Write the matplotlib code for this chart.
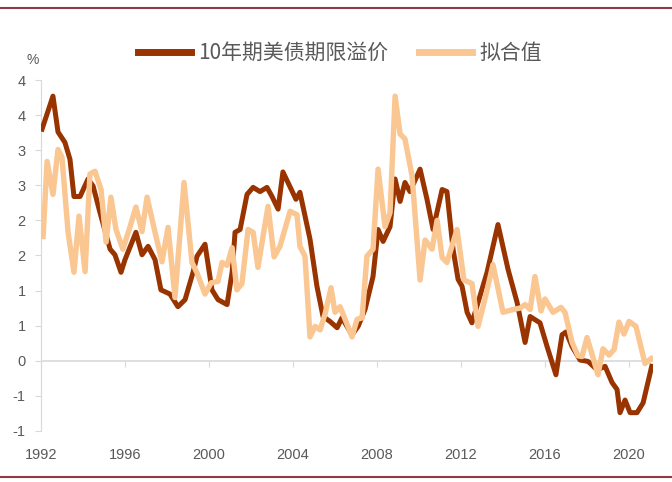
import matplotlib as mpl
mpl.use('Agg')
import matplotlib.pyplot as plt
from matplotlib.lines import Line2D

plt.rcParams['font.family'] = ['Liberation Sans', 'Noto Sans CJK SC', 'DejaVu Sans']

# 10年期美债期限溢价 (decimal years, %)
premium_x = [1992.05, 1992.57, 1992.81, 1993.14, 1993.38, 1993.57, 1993.86, 1994.24, 1994.48, 1994.81,
             1995.29, 1995.52, 1995.81, 1996.00, 1996.52, 1996.81, 1997.10, 1997.43, 1997.71, 1998.14,
             1998.52, 1998.86, 1999.24, 1999.43, 1999.81, 2000.14, 2000.43, 2000.86, 2001.10, 2001.24,
             2001.48, 2001.81, 2002.10, 2002.43, 2002.76, 2003.00, 2003.29, 2003.52, 2003.95, 2004.14,
             2004.33, 2004.81, 2005.14, 2005.43, 2005.76, 2006.10, 2006.33, 2006.81, 2007.10, 2007.43,
             2007.81, 2008.05, 2008.29, 2008.62, 2008.86, 2009.10, 2009.33, 2009.57, 2010.05, 2010.38,
             2010.67, 2011.10, 2011.33, 2011.62, 2011.86, 2012.05, 2012.29, 2012.52, 2012.81, 2013.24,
             2013.76, 2014.24, 2014.67, 2015.05, 2015.29, 2015.76, 2016.10, 2016.52, 2016.81, 2017.00,
             2017.29, 2017.67, 2018.05, 2018.48, 2018.86, 2019.19, 2019.43, 2019.57, 2019.81, 2020.05,
             2020.38, 2020.67, 2021.08]
premium_y = [3.30, 3.77, 3.26, 3.11, 2.87, 2.34, 2.34, 2.59, 2.49, 2.11,
             1.59, 1.51, 1.26, 1.44, 1.83, 1.51, 1.63, 1.44, 1.01, 0.95,
             0.77, 0.87, 1.26, 1.49, 1.66, 1.01, 0.87, 0.80, 1.26, 1.83,
             1.87, 2.37, 2.47, 2.41, 2.47, 2.34, 2.16, 2.69, 2.42, 2.30,
             2.40, 1.73, 1.06, 0.63, 0.56, 0.47, 0.61, 0.37, 0.49, 0.73,
             1.20, 1.87, 1.70, 1.91, 2.59, 2.27, 2.54, 2.41, 2.73, 2.30,
             1.87, 2.44, 2.41, 1.59, 1.16, 1.06, 0.69, 0.54, 0.83, 1.26,
             1.94, 1.30, 0.83, 0.26, 0.63, 0.54, 0.20, -0.20, 0.37, 0.41,
             0.20, 0.01, -0.01, -0.13, -0.08, -0.31, -0.41, -0.74, -0.56, -0.74,
             -0.74, -0.60, -0.08]

# 拟合值
fitted_x = [1992.10, 1992.29, 1992.57, 1992.81, 1993.00, 1993.29, 1993.57, 1993.81, 1994.10, 1994.33,
            1994.57, 1994.86, 1995.10, 1995.33, 1995.57, 1995.90, 1996.24, 1996.52, 1996.81, 1997.05,
            1997.43, 1997.76, 1998.05, 1998.38, 1998.81, 1999.19, 1999.43, 1999.81, 2000.10, 2000.43,
            2000.62, 2000.86, 2001.10, 2001.33, 2001.57, 2001.86, 2002.10, 2002.33, 2002.81, 2003.10,
            2003.38, 2003.86, 2004.19, 2004.33, 2004.57, 2004.81, 2005.05, 2005.29, 2005.52, 2005.81,
            2006.00, 2006.24, 2006.48, 2006.81, 2007.05, 2007.29, 2007.52, 2007.81, 2008.05, 2008.38,
            2008.62, 2008.86, 2009.10, 2009.33, 2009.67, 2010.05, 2010.29, 2010.62, 2010.86, 2011.10,
            2011.33, 2011.81, 2012.14, 2012.52, 2012.81, 2013.10, 2013.52, 2014.00, 2014.48, 2014.81,
            2015.05, 2015.29, 2015.52, 2015.81, 2016.00, 2016.38, 2016.76, 2016.95, 2017.29, 2017.57,
            2017.76, 2018.00, 2018.24, 2018.52, 2018.76, 2019.05, 2019.29, 2019.52, 2019.76, 2020.00,
            2020.33, 2020.76, 2021.05]
fitted_y = [1.77, 2.84, 2.37, 3.01, 2.90, 1.83, 1.26, 2.06, 1.27, 2.66,
            2.70, 2.44, 1.69, 2.33, 1.87, 1.59, 1.91, 2.19, 1.84, 2.33,
            1.83, 1.41, 1.90, 0.90, 2.54, 1.40, 1.25, 0.95, 1.11, 1.13,
            1.40, 1.36, 1.61, 1.01, 1.10, 1.87, 1.83, 1.33, 2.20, 1.48,
            1.63, 2.13, 2.08, 1.63, 1.49, 0.34, 0.49, 0.44, 0.66, 1.04,
            0.69, 0.77, 0.59, 0.34, 0.59, 0.61, 1.49, 1.59, 2.73, 1.91,
            2.11, 3.77, 3.23, 3.16, 2.63, 1.15, 1.72, 1.59, 2.00, 1.47,
            1.40, 1.87, 1.15, 1.10, 0.49, 0.83, 1.37, 0.69, 0.73, 0.75,
            0.80, 0.73, 1.20, 0.71, 0.88, 0.69, 0.76, 0.69, 0.26, 0.07,
            0.06, 0.33, 0.09, -0.20, 0.17, 0.08, 0.16, 0.55, 0.38, 0.56,
            0.49, -0.04, 0.03]

year_ticks = [1992, 1996, 2000, 2004, 2008, 2012, 2016, 2020]
y_ticks = [-1, -0.5, 0, 0.5, 1, 1.5, 2, 2.5, 3, 3.5, 4]
y_labels = ['-1', '-1', '0', '1', '1', '2', '2', '3', '3', '4', '4']

brown = '#993300'
peach = '#FAC793'
grey = '#D9D9D9'
text_c = '#595959'

fig = plt.figure(figsize=(6.72, 4.82), dpi=100)
ax = fig.add_axes([0.061, 0.106, 0.911, 0.728])

l1, = ax.plot(premium_x, premium_y, color=brown, lw=3.6, solid_joinstyle='round', zorder=3)
l2, = ax.plot(fitted_x, fitted_y, color=peach, lw=3.9, solid_joinstyle='round', zorder=4)

ax.set_xlim(1992, 2021.15)
ax.set_ylim(-1, 4)
ax.set_yticks(y_ticks)
ax.set_yticklabels(y_labels)
ax.set_xticks(year_ticks)
ax.set_xticklabels([str(y) for y in year_ticks])

for s in ['top', 'right', 'bottom']:
    ax.spines[s].set_visible(False)
ax.spines['left'].set_color(grey)
ax.tick_params(axis='y', colors=grey, labelcolor=text_c, labelsize=10.5, length=4, pad=7)
ax.tick_params(axis='x', length=0, labelcolor=text_c, labelsize=10.5, pad=12)

# x axis line crosses at y = 0
ax.axhline(0, color=grey, lw=1.2, zorder=1)
sec = ax.secondary_xaxis((0 - (-1)) / (4 - (-1)))
sec.set_xticks(year_ticks)
sec.tick_params(axis='x', direction='out', length=4, color=grey, labelbottom=False)
sec.spines['bottom'].set_visible(False)

fig.text(0.049, 0.876, '%', fontsize=10, color=text_c, ha='center', va='center')

fig.legend([l1, l2], ['10年期美债期限溢价', '拟合值'], loc='center', bbox_to_anchor=(0.506, 0.89),
           ncol=2, frameon=False, fontsize=15, handlelength=2.55, handletextpad=0.35,
           columnspacing=1.45, labelcolor=text_c,
           prop={'family': ['Noto Sans CJK SC', 'DejaVu Sans'], 'size': 15})
for h in fig.legends[0].legend_handles:
    h.set_linewidth(5)

# decorative frame lines
fig.add_artist(Line2D([0, 1], [0.983, 0.983], color='#8E3B46', lw=1.5))
fig.add_artist(Line2D([0, 1], [0.010, 0.010], color='#8E3B46', lw=1.5))

fig.savefig('out.png', dpi=100)
